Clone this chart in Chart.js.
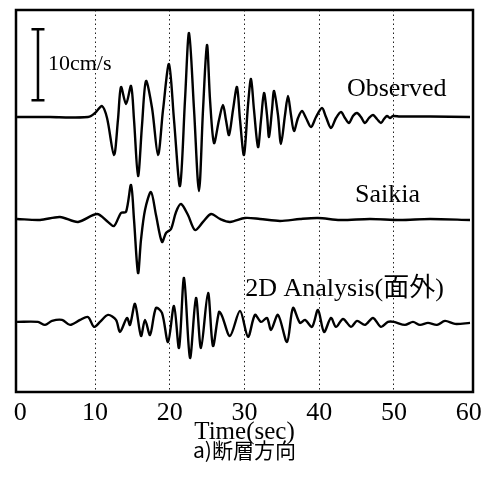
<!DOCTYPE html>
<html>
<head>
<meta charset="utf-8">
<script src="https://cdn.jsdelivr.net/npm/chart.js@4"></script>
<style>
  html, body { margin: 0; padding: 0; background: #fff; }
  #wrap { width: 494px; height: 495px; }
</style>
</head>
<body>
<div id="wrap"><canvas id="waveChart"></canvas></div>
<script>
// time axis ticks (sec)
var timeTicks = [0, 10, 20, 30, 40, 50, 60]

// Observed velocity (cm/s)
var obsTime = [-0.43,3.98,6.66,9.06,9.46,10.13,10.93,11.61,12.54,13.07,
    13.48,14.15,14.82,15.22,15.76,16.29,16.82,17.63,18.43,19.10,
    19.90,20.57,21.37,22.04,22.58,23.25,23.91,24.45,24.98,25.39,
    25.92,26.59,27.12,27.52,27.93,28.46,28.99,29.40,29.93,30.47,
    30.87,31.27,31.81,32.21,32.61,33.01,33.28,33.68,33.95,34.48,
    34.88,35.42,35.82,36.22,36.62,37.16,37.69,38.23,38.90,39.57,
    40.37,40.90,41.57,42.24,42.91,43.44,43.98,44.51,45.05,45.58,
    46.12,46.65,47.19,47.72,48.26,48.66,49.06,49.46,49.86,50.80,
    54.82,60.17]
var obsVel = [-0.07,-0.07,-0.14,-0.07,0.07,0.63,1.48,-0.21,-5.42,-0.49,
    4.15,1.76,4.30,-0.49,-8.38,-1.20,5.00,1.20,-5.42,0.92,
    7.39,-0.49,-9.79,2.32,11.76,0.92,-10.49,0.92,10.07,2.32,
    -3.73,-0.49,1.62,-0.49,-2.61,0.92,4.15,-0.49,-5.42,1.62,
    5.28,0.92,-4.30,-0.49,3.31,0.21,-2.89,0.92,3.59,0.21,
    -3.87,0.21,2.89,0.21,-2.04,-0.21,0.77,-0.21,-1.48,-0.07,
    1.20,-0.07,-1.62,-0.21,0.63,-0.21,-0.92,0.07,0.49,-0.07,
    -0.92,-0.21,0.21,-0.35,-0.92,-0.35,0.07,-0.21,0.07,0,
    0,-0.07]

// Saikia
var saiTime = [-0.43,2.64,5.32,7.73,10.27,11.74,12.54,13.48,14.15,14.82,
    15.22,15.76,16.15,16.69,17.49,18.16,18.96,19.50,20.17,20.84,
    21.50,22.44,23.38,24.45,25.52,26.72,28.06,30.07,32.07,34.75,
    37.42,39.83,42.78,46.79,50.80,54.82,60.17]
var saiVel = [0.07,-0.07,0.35,-0.35,0.77,-0.35,-0.92,0.92,1.06,4.86,
    -0.07,-7.54,-2.89,1.34,3.87,0.63,-3.17,-1.90,-1.34,1.06,
    2.18,0.63,-1.48,-0.35,0.77,0.07,-0.35,0.21,0.07,-0.21,
    0.07,0.21,-0.07,0.07,-0.07,0.07,-0.07]

// 2D Analysis (out of plane)
var anaTime = [-0.43,2.37,3.31,4.25,5.59,6.66,8.01,9.06,9.87,10.67,
    11.74,12.81,13.34,14.28,14.68,15.35,16.15,16.69,17.36,18.16,
    18.96,19.77,20.57,21.24,21.91,22.71,23.51,24.18,25.12,25.78,
    26.59,26.99,28.06,29.40,30.47,31.40,32.21,33.01,33.55,34.48,
    35.69,36.49,37.42,38.09,39.03,39.83,40.64,41.57,42.24,43.18,
    44.25,45.05,46.12,47.19,48.26,49.19,49.99,51.47,52.54,53.48,
    54.55,55.75,56.82,58.16,60.17]
var anaVel = [0.07,0.07,-0.35,0.21,0.35,-0.35,0.35,0.77,-0.63,0.07,
    1.06,0.35,-1.34,0.63,-0.35,2.61,-1.90,0.35,-1.76,2.04,
    1.34,-2.75,2.32,-3.59,6.27,-5.0,3.45,-3.59,4.15,-3.31,
    1.48,0.92,-1.90,1.62,-2.04,1.06,0.07,0.63,-1.06,1.06,
    -2.75,2.04,-0.07,0.35,-0.63,1.76,-1.34,0.63,-0.63,0.49,
    -0.63,0.21,-0.35,0.63,-0.63,0.07,0.07,-0.35,0.07,-0.35,
    -0.07,-0.35,0.21,-0.21,-0.07]

var traceNames = ['Observed', 'Saikia', '2D Analysis(面外)']
var traceShift = [0, -14.5, -29.0]   // vertical stacking of the traces
var scaleBarValue = 10               // 10cm/s

function toPoints(times, vels, shift) {
    return times.map((t, i) => ({x: t, y: vels[i] + shift}))
}

var series = [[obsTime, obsVel], [saiTime, saiVel], [anaTime, anaVel]]
var datasets = series.map((s, i) => ({
    label: traceNames[i],
    data: toPoints(s[0], s[1], traceShift[i]),
    borderColor: '#000',
    borderWidth: 2.4,
    pointRadius: 0,
    tension: 0.3,
    fill: false
}))

var serif = "'Liberation Serif', 'Times New Roman', serif"

// text labels, scale bar and frame
var decorations = {
    id: 'decorations',
    afterDatasetsDraw(chart) {
        const {ctx, chartArea, scales: {x, y}} = chart
        ctx.save()
        ctx.fillStyle = '#000'
        ctx.textBaseline = 'middle'
        ctx.textAlign = 'left'
        ctx.font = '26px ' + serif
        ctx.fillText(traceNames[0], x.getPixelForValue(43.7), y.getPixelForValue(traceShift[0] + 3.9))
        ctx.fillText(traceNames[1], x.getPixelForValue(44.8), y.getPixelForValue(traceShift[1] + 3.45))
        ctx.font = "26px 'Liberation Serif', 'Noto Sans CJK JP', serif"
        ctx.fillText(traceNames[2], x.getPixelForValue(30.1), y.getPixelForValue(traceShift[2] + 4.7))

        // scale bar
        const bx = x.getPixelForValue(2.37)
        const y0 = y.getPixelForValue(2.3)
        const y1 = y.getPixelForValue(2.3 + scaleBarValue)
        ctx.strokeStyle = '#000'
        ctx.lineWidth = 2.5
        ctx.beginPath()
        ctx.moveTo(bx, y0); ctx.lineTo(bx, y1)
        ctx.moveTo(bx - 6.5, y0); ctx.lineTo(bx + 6.5, y0)
        ctx.moveTo(bx - 6.5, y1); ctx.lineTo(bx + 6.5, y1)
        ctx.stroke()
        ctx.font = '22px ' + serif
        ctx.fillText(scaleBarValue + 'cm/s', x.getPixelForValue(3.7), y.getPixelForValue(7.4))

        // frame
        ctx.lineWidth = 2.5
        ctx.strokeRect(chartArea.left, chartArea.top, chartArea.right - chartArea.left, chartArea.bottom - chartArea.top)
        ctx.restore()
    }
}

var waveChart = new Chart(document.querySelector('#waveChart'), {
    type: 'line',
    data: {datasets: datasets},
    options: {
        responsive: true,
        maintainAspectRatio: false,
        animation: false,
        layout: {padding: {left: 16, right: 21, top: 10, bottom: 0}},
        plugins: {
            legend: {display: false},
            tooltip: {enabled: false},
            title: {
                display: true,
                position: 'bottom',
                text: 'a)断層方向',
                color: '#000',
                font: {family: "'Noto Sans CJK JP', sans-serif", size: 21, weight: 'normal', lineHeight: 1},
                padding: {top: 0, bottom: 34}
            }
        },
        scales: {
            x: {
                type: 'linear',
                min: -0.57,
                max: 60.57,
                afterBuildTicks: (scale) => {
                    scale.ticks = timeTicks.map(v => ({value: v}))
                },
                afterFit: (scale) => { scale.height = 48 },
                grid: {
                    drawTicks: false,
                    color: (c) => (c.tick && (c.tick.value === 0 || c.tick.value === 60)) ? 'rgba(0,0,0,0)' : '#222',
                    lineWidth: 1
                },
                border: {display: false, dash: [1.5, 3]},
                ticks: {
                    color: '#000',
                    padding: 6,
                    maxRotation: 0,
                    font: {family: serif, size: 26, lineHeight: 1.2}
                },
                title: {
                    display: true,
                    text: 'Time(sec)',
                    color: '#000',
                    font: {family: serif, size: 25, lineHeight: 1},
                    padding: {top: 0, bottom: -4.5}
                }
            },
            y: {
                display: false,
                min: -38.8,
                max: 15.0
            }
        }
    },
    plugins: [decorations]
})
</script>
</body>
</html>
